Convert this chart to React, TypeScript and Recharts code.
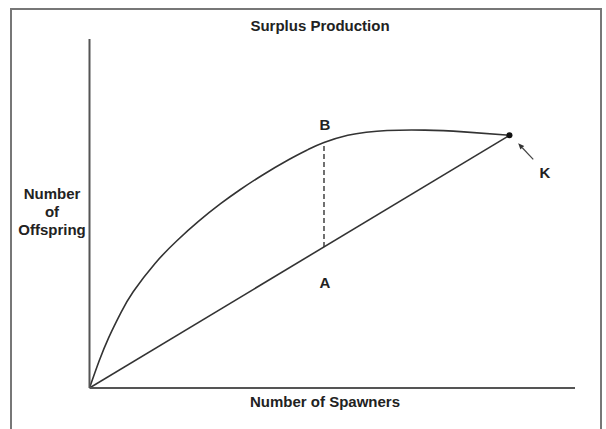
import { LineChart, Line, XAxis, YAxis, ReferenceDot, ReferenceLine } from "recharts"

// spawners (x) vs offspring (y) on a 0-100 scale
const curveX = [0, 2, 4, 6.5, 9, 13.5, 18, 22.5, 27, 31, 35.5, 41, 45, 48.3, 53.2, 57, 61.3, 69.1, 77.1, 86.5]
const curveY = [0, 7.8, 14.6, 21.7, 27.6, 35.7, 42.2, 47.8, 52.8, 56.8, 60.9, 65.4, 68.3, 70.35, 72.4, 73.3, 73.8, 73.9, 73.4, 72.4]

// replacement line from the origin to K
const replaceX = [0, 86.5]
const replaceY = [0, 72.4]

// surplus gap between A and B
const gapX = [48.3, 48.3]
const gapY = [40.4, 70.35]

const kPoint = { x: 86.5, y: 72.4 }
const arrowFrom = { x: 91.4, y: 65.5 }
const arrowTo = { x: 88.3, y: 70.1 }

const pointLabels = [
  { text: "B", x: 48.5, y: 75.4 },
  { text: "A", x: 48.5, y: 30.1 },
  { text: "K", x: 93.8, y: 61.8 },
]

const curveData = curveX.map((x, i) => ({ x, y: curveY[i] }))
const replaceData = replaceX.map((x, i) => ({ x, y: replaceY[i] }))
const gapData = gapX.map((x, i) => ({ x, y: gapY[i] }))

const FONT = '"Liberation Sans", Arial, sans-serif'
const INK = "#222"
const SIZE = 15

// line with a small arrow head at the second point
const ArrowShape = (props: any) => {
  const { x1, y1, x2, y2 } = props
  const ang = Math.atan2(y2 - y1, x2 - x1)
  const len = 6
  const half = 2.6
  const bx = x2 - len * Math.cos(ang)
  const by = y2 - len * Math.sin(ang)
  const px = -Math.sin(ang) * half
  const py = Math.cos(ang) * half
  return (
    <g>
      <line x1={x1} y1={y1} x2={bx} y2={by} stroke="#444" strokeWidth={1.2} />
      <polygon points={`${x2},${y2} ${bx + px},${by + py} ${bx - px},${by - py}`} fill="#333" />
    </g>
  )
}

const textStyle = {
  position: "absolute" as const,
  textAlign: "center" as const,
  fontSize: SIZE,
  fontWeight: "bold",
  color: INK,
}

export default function App() {
  return (
    <div
      style={{
        position: "absolute",
        left: 0,
        top: 0,
        width: 606,
        height: 429,
        overflow: "hidden",
        background: "#fff",
        fontFamily: FONT,
      }}
    >
      {/* outer frame, bottom edge runs off the picture */}
      <div
        style={{
          position: "absolute",
          left: 10,
          top: 8,
          width: 592,
          height: 440,
          border: "2px solid #777",
          boxSizing: "border-box",
        }}
      />

      <div style={{ ...textStyle, left: 220, top: 16, width: 200, lineHeight: "19px" }}>
        Surplus Production
      </div>

      <div style={{ ...textStyle, left: 2, top: 185, width: 100, lineHeight: "18px" }}>
        Number
        <br />
        of
        <br />
        Offspring
      </div>

      <div style={{ ...textStyle, left: 225, top: 392, width: 200, lineHeight: "19px" }}>
        Number of Spawners
      </div>

      <div style={{ position: "absolute", left: 0, top: 0 }}>
        <LineChart width={606} height={429} margin={{ top: 39, right: 31, bottom: 40, left: 88.5 }}>
          <XAxis
            type="number"
            dataKey="x"
            domain={[0, 100]}
            allowDataOverflow
            tick={false}
            tickLine={false}
            height={1}
            axisLine={{ stroke: "#555", strokeWidth: 2 }}
          />
          <YAxis
            type="number"
            domain={[0, 100]}
            allowDataOverflow
            tick={false}
            tickLine={false}
            width={1}
            axisLine={{ stroke: "#555", strokeWidth: 2 }}
          />
          <Line
            data={curveData}
            dataKey="y"
            type="natural"
            stroke="#333"
            strokeWidth={1.6}
            dot={false}
            activeDot={false}
            isAnimationActive={false}
          />
          <Line
            data={replaceData}
            dataKey="y"
            type="linear"
            stroke="#333"
            strokeWidth={1.6}
            dot={false}
            activeDot={false}
            isAnimationActive={false}
          />
          <Line
            data={gapData}
            dataKey="y"
            type="linear"
            stroke="#333"
            strokeWidth={1.4}
            strokeDasharray="5 3"
            dot={false}
            activeDot={false}
            isAnimationActive={false}
          />
          <ReferenceLine
            segment={[arrowFrom, arrowTo]}
            shape={ArrowShape}
            ifOverflow="visible"
          />
          <ReferenceDot x={kPoint.x} y={kPoint.y} r={3} fill="#111" stroke="none" />
          {pointLabels.map((p) => (
            <ReferenceDot
              key={p.text}
              x={p.x}
              y={p.y}
              r={0}
              fill="none"
              stroke="none"
              label={{
                value: p.text,
                position: "center",
                fill: INK,
                fontSize: SIZE,
                fontWeight: "bold",
                fontFamily: FONT,
              }}
            />
          ))}
        </LineChart>
      </div>
    </div>
  )
}
